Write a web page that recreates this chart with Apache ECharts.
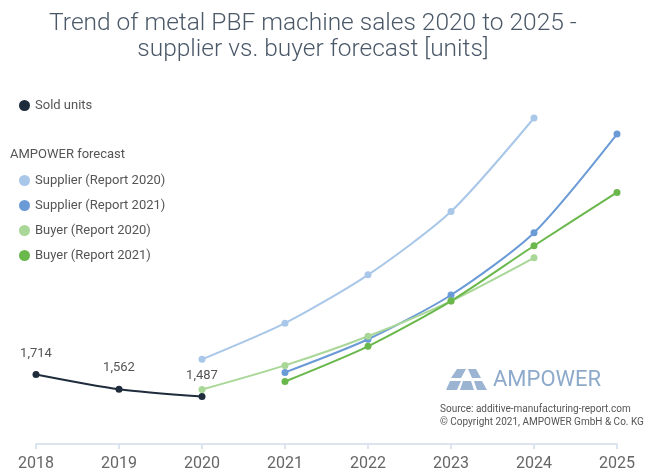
<!DOCTYPE html>
<html>
<head>
<meta charset="utf-8">
<script src="https://cdn.jsdelivr.net/npm/echarts@6/dist/echarts.min.js"></script>
<style>
  html, body { margin: 0; padding: 0; background: #fff; }
  #main { width: 648px; height: 472px; }
</style>
</head>
<body>
<div id="main"></div>
<script>
// 数据
var years = ['2018', '2019', '2020', '2021', '2022', '2023', '2024', '2025'];
var soldUnits = [1714, 1562, 1487, null, null, null, null, null];
var supplier2020 = [null, null, 1869, 2240, 2736, 3386, 4346, null];
var supplier2021 = [null, null, null, 1735, 2075, 2529, 3169, 4181];
var buyer2020 = [null, null, 1559, 1807, 2106, 2467, 2911, null];
var buyer2021 = [null, null, null, 1642, 2003, 2467, 3035, 3582];

var myChart = echarts.init(document.getElementById('main'));

function lineSeries(name, data, color) {
    return {
        name: name,
        type: 'line',
        data: data,
        smooth: 0.25,
        connectNulls: false,
        symbol: 'circle',
        symbolSize: 7,
        lineStyle: { color: color, width: 2 },
        itemStyle: { color: color },
        z: 3
    };
}

var font = 'Roboto, "Open Sans", sans-serif';

var option = {
    backgroundColor: '#fff',
    animation: false,
    textStyle: { fontFamily: font },
    title: {
        text: 'Trend of metal PBF machine sales 2020 to 2025 -\nsupplier vs. buyer forecast [units]',
        left: 308,
        top: 6,
        textAlign: 'center',
        textStyle: {
            fontFamily: font,
            fontWeight: 300,
            fontSize: 24.5,
            lineHeight: 26,
            color: '#4a5868'
        }
    },
    legend: [{
        data: ['Sold units'],
        left: 14,
        top: 94,
        icon: 'circle',
        itemWidth: 11,
        itemHeight: 11,
        textStyle: { fontFamily: font, fontSize: 13, color: '#555' }
    }, {
        data: ['Supplier (Report 2020)', 'Supplier (Report 2021)', 'Buyer (Report 2020)', 'Buyer (Report 2021)'],
        orient: 'vertical',
        left: 14,
        top: 169,
        itemGap: 12,
        icon: 'circle',
        itemWidth: 11,
        itemHeight: 11,
        textStyle: { fontFamily: font, fontSize: 13, color: '#555' }
    }],
    grid: { left: 36, right: 31, top: 103, bottom: 28 },
    xAxis: {
        type: 'category',
        data: years,
        boundaryGap: false,
        axisLine: { lineStyle: { color: '#dce5ef', width: 2 } },
        axisTick: { show: true, length: 5, lineStyle: { color: '#dce5ef', width: 2 } },
        axisLabel: { fontFamily: font, fontSize: 16, color: '#666', margin: 12 }
    },
    yAxis: {
        type: 'value',
        min: 1000,
        max: 4500,
        show: false,
        splitLine: { show: false }
    },
    graphic: [
        {
            type: 'text', left: 10, top: 148,
            style: { text: 'AMPOWER forecast', fontFamily: font, fontSize: 13, fill: '#555' }
        },
        // logo
        { type: 'polygon', shape: { points: [[457, 369], [466, 369], [461, 378], [451, 378]] }, style: { fill: '#9bb4d2' } },
        { type: 'polygon', shape: { points: [[468, 369], [476, 369], [481, 378], [472, 378]] }, style: { fill: '#9bb4d2' } },
        { type: 'polygon', shape: { points: [[450, 381], [461, 381], [457, 390], [446, 390]] }, style: { fill: '#9bb4d2' } },
        { type: 'polygon', shape: { points: [[463, 381], [471, 381], [474, 390], [460, 390]] }, style: { fill: '#9bb4d2' } },
        { type: 'polygon', shape: { points: [[474, 381], [482, 381], [487, 390], [477, 390]] }, style: { fill: '#9bb4d2' } },
        {
            type: 'text', left: 493, top: 369,
            style: { text: 'AMPOWER', fontFamily: font, fontSize: 22, fill: '#8eaacb' }
        },
        {
            type: 'text', left: 440, top: 403,
            style: {
                text: 'Source: additive-manufacturing-report.com\n\u00a9 Copyright 2021, AMPOWER GmbH & Co. KG',
                fontFamily: font, fontSize: 10, lineHeight: 13, fill: '#555'
            }
        }
    ],
    series: [
        {
            name: 'Sold units',
            type: 'line',
            data: soldUnits,
            smooth: 0.25,
            symbol: 'circle',
            symbolSize: 7,
            lineStyle: { color: '#1e2c3c', width: 2 },
            itemStyle: { color: '#1e2c3c' },
            label: {
                show: true,
                position: 'top',
                distance: 11,
                fontFamily: font,
                fontSize: 13,
                color: '#555',
                formatter: function (p) { return p.value == null ? '' : p.value.toLocaleString('en-US'); }
            },
            z: 4
        },
        lineSeries('Supplier (Report 2020)', supplier2020, '#a9c7e8'),
        lineSeries('Supplier (Report 2021)', supplier2021, '#6b9bd6'),
        lineSeries('Buyer (Report 2020)', buyer2020, '#a9d797'),
        lineSeries('Buyer (Report 2021)', buyer2021, '#6ab84c')
    ]
};

myChart.setOption(option);
</script>
</body>
</html>
